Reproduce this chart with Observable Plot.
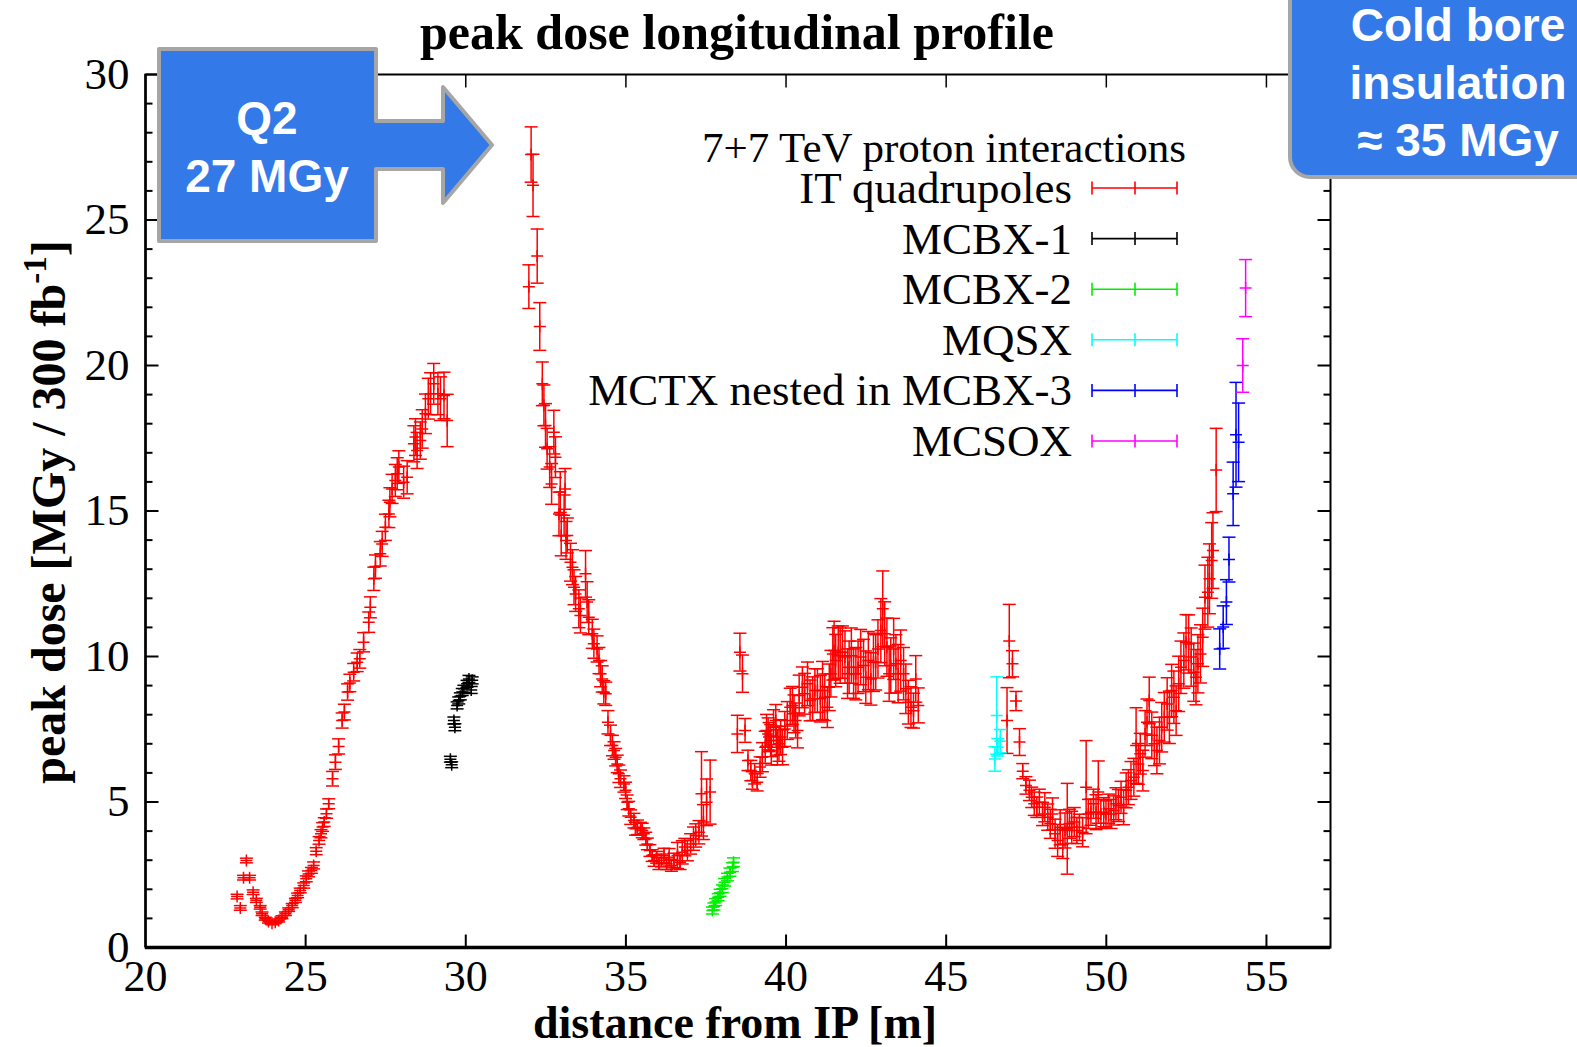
<!DOCTYPE html>
<html><head><meta charset="utf-8">
<script src="https://cdn.jsdelivr.net/npm/d3@7"></script>
<script src="https://cdn.jsdelivr.net/npm/@observablehq/plot@0.6"></script>
<style>
html,body{margin:0;padding:0;background:#fff;}
#wrap{position:relative;width:1577px;height:1047px;overflow:hidden;}
#wrap > svg{position:absolute;left:0;top:0;overflow:visible;}
</style></head><body><div id="wrap"></div>
<script>
// ---- data: [distance (m), peak dose (MGy/300 fb^-1), error] ----
const itQuad = [
[22.86,1.75,0.08],[22.96,1.36,0.08],[23.06,2.40,0.08],[23.15,2.99,0.08],[23.25,2.40,0.08],[23.36,1.90,0.08],[23.46,1.62,0.07],[23.58,1.38,0.06],[23.64,1.16,0.06],[23.74,0.99,0.05],[23.84,0.89,0.05],[23.95,0.83,0.05],[24.05,0.87,0.05],[24.16,0.93,0.05],[24.26,1.04,0.05],[24.37,1.16,0.06],[24.47,1.30,0.06],[24.58,1.44,0.07],[24.68,1.62,0.07],[24.75,1.79,0.08],[24.83,1.96,0.08],[24.94,2.13,0.09],[25.02,2.36,0.1],[25.09,2.53,0.1],[25.18,2.65,0.1],[25.25,2.82,0.12],[25.33,3.31,0.12],[25.42,3.68,0.13],[25.48,3.91,0.14],[25.53,4.14,0.15],[25.58,4.31,0.15],[25.65,4.60,0.16],[25.72,4.94,0.17],[25.84,5.80,0.25],[25.93,6.37,0.25],[26.03,6.91,0.26],[26.14,7.80,0.26],[26.21,8.09,0.27],[26.31,8.78,0.28],[26.38,9.09,0.3],[26.50,9.46,0.3],[26.61,9.80,0.32],[26.69,9.92,0.32],[26.81,10.49,0.33],
[26.97,11.18,0.35],[27.02,11.69,0.36],[27.13,12.67,0.4],[27.18,13.09,0.4],[27.33,13.53,0.42],[27.39,13.87,0.43],[27.49,14.44,0.45],[27.60,14.90,0.47],[27.63,15.30,0.5],[27.70,15.76,0.5],[27.80,16.05,0.55],[27.86,16.28,0.55],[27.91,16.51,0.56],[28.06,15.99,0.55],[28.17,16.16,0.57],[28.38,17.31,0.62],[28.43,17.54,0.63],[28.48,17.08,0.62],[28.58,17.42,0.64],[28.64,17.82,0.66],[28.74,18.34,0.68],[28.83,18.86,0.7],[28.90,19.03,0.72],[29.00,19.37,0.7],[29.13,19.03,0.72],[29.21,18.86,0.75],[29.32,18.97,0.8],[29.42,18.11,0.9],
[31.97,22.71,0.75],[32.04,27.25,0.95],[32.10,26.19,1.07],[32.23,23.76,0.93],[32.31,21.34,0.82],[32.39,19.37,0.75],[32.44,18.63,0.7],[32.49,17.94,0.75],[32.54,17.14,0.7],[32.62,16.51,0.7],[32.68,15.93,0.7],[32.75,17.71,0.75],[32.80,16.85,0.7],[32.91,14.90,0.75],[32.95,15.65,0.7],[32.98,14.16,0.7],[33.07,14.85,0.7],[33.10,15.76,0.7],[33.13,13.99,0.65],[33.17,14.16,0.6],[33.27,13.24,0.65],[33.33,13.07,0.6],[33.38,12.38,0.6],[33.43,12.15,0.6],[33.53,11.64,0.65],[33.58,11.41,0.6],[33.74,12.84,0.8],[33.79,11.87,0.7],[33.84,11.35,0.6],[33.95,10.78,0.5],[34.00,10.44,0.5],[34.10,10.26,0.45],[34.16,9.86,0.45],[34.21,9.41,0.45],[34.26,9.23,0.45],[34.31,8.77,0.4],[34.37,8.72,0.4],[34.44,7.74,0.4],[34.52,7.29,0.35],[34.58,6.94,0.35],[34.63,6.77,0.3],[34.68,6.54,0.3],[34.73,6.31,0.3],[34.78,5.97,0.3],[34.83,5.80,0.3],[34.94,5.62,0.28],[34.99,5.40,0.28],[35.04,4.99,0.25],[35.09,4.77,0.25],[35.15,4.48,0.25],[35.25,4.36,0.25],[35.30,4.08,0.22],[35.36,4.13,0.25],[35.46,4.08,0.22],[35.51,4.02,0.25],[35.56,3.91,0.2],[35.62,3.74,0.22],[35.67,3.56,0.2],[35.75,3.33,0.2],[35.82,3.16,0.2],[35.88,2.99,0.2],[35.96,3.10,0.2],[36.03,2.88,0.2],[36.11,2.99,0.22],[36.19,3.16,0.25],[36.27,2.88,0.2],[36.35,3.10,0.3],[36.42,2.82,0.2],[36.50,2.99,0.25],[36.61,3.16,0.45],[36.69,2.93,0.25],[36.76,3.27,0.4],[36.84,3.45,0.3],[36.92,3.33,0.35],[37.02,3.56,0.35],[37.11,3.74,0.4],[37.18,3.85,0.4],[37.28,3.96,0.4],[37.36,5.28,1.45],[37.42,4.31,0.6],[37.52,4.99,0.8],[37.63,5.34,1.1],
[38.48,7.34,0.64],[38.56,10.15,0.65],[38.64,9.41,0.64],[38.72,7.46,0.41],[38.81,6.43,0.35],[38.90,6.08,0.35],[38.95,5.74,0.3],[39.02,5.97,0.35],[39.10,5.68,0.3],[39.19,6.20,0.35],[39.26,6.54,0.5],[39.35,6.88,0.55],[39.39,7.46,0.55],[39.44,7.34,0.55],[39.47,7.23,0.5],[39.52,7.11,0.55],[39.54,6.77,0.5],[39.61,7.57,0.6],[39.68,7.80,0.55],[39.70,7.11,0.5],[39.73,6.88,0.6],[39.78,7.00,0.6],[39.83,7.23,0.6],[39.89,6.88,0.6],[39.96,7.51,0.6],[40.04,7.80,0.65],[40.13,8.26,0.65],[40.20,8.32,0.65],[40.25,8.03,0.65],[40.30,7.80,0.6],[40.36,7.46,0.6],[40.41,8.66,0.7],[40.51,8.94,0.7],[40.58,8.72,0.7],[40.67,9.06,0.75],[40.75,8.49,0.7],[40.83,8.55,0.75],[40.90,8.83,0.75],[40.98,8.83,0.75],[41.07,8.55,0.8],[41.14,8.83,1.0],[41.21,8.60,0.8],[41.29,8.26,0.7],[41.35,8.94,0.8],[41.40,9.41,0.8],[41.46,10.09,0.9],[41.50,10.21,1.0],[41.55,9.86,0.9],[41.63,10.15,0.9],[41.69,10.03,0.95],[41.76,10.15,0.9],[41.84,9.98,0.9],[41.92,9.41,0.85],[41.97,9.63,0.9],[42.04,10.03,0.95],[42.11,9.41,0.85],[42.18,9.41,0.9],[42.25,9.63,0.9],[42.33,9.98,0.95],[42.42,9.69,0.9],[42.49,9.29,0.9],[42.57,9.86,1.0],[42.65,9.23,0.9],[42.73,9.80,1.0],[42.80,9.80,0.95],[42.87,10.26,1.0],[42.96,10.89,1.1],[43.02,11.64,1.3],[43.08,10.78,1.1],[43.15,10.32,1.0],[43.22,9.41,0.95],[43.27,9.69,0.95],[43.36,10.26,1.05],[43.43,9.75,1.0],[43.50,9.41,1.0],[43.58,9.86,1.05],[43.67,9.41,0.9],[43.74,8.89,0.85],[43.82,8.43,0.75],[43.90,8.26,0.7],[43.98,8.14,0.6],[44.05,9.23,0.8],[44.13,8.32,0.6],
[46.90,7.80,1.13],[46.97,10.53,1.26],[47.07,9.75,0.45],[47.18,8.47,0.33],[47.29,7.06,0.46],[47.39,6.06,0.26],[47.49,5.57,0.3],[47.60,5.40,0.35],[47.67,5.16,0.35],[47.75,4.94,0.4],[47.83,4.82,0.35],[47.91,4.99,0.45],[48.01,4.59,0.4],[48.08,4.82,0.5],[48.17,4.48,0.45],[48.25,4.25,0.5],[48.32,4.59,0.55],[48.40,3.91,0.5],[48.48,3.68,0.55],[48.56,4.13,0.6],[48.64,3.56,0.5],[48.71,4.02,0.6],[48.78,4.08,1.56],[48.85,4.25,0.5],[48.92,4.13,0.55],[49.00,4.31,0.5],[49.08,4.02,0.45],[49.16,4.13,0.45],[49.26,3.96,0.5],[49.37,5.51,1.6],[49.44,4.59,0.5],[49.52,4.65,0.45],[49.60,4.94,0.5],[49.68,4.65,0.6],[49.75,5.34,1.07],[49.83,4.59,0.5],[49.92,4.65,0.5],[49.99,4.59,0.45],[50.07,4.77,0.5],[50.15,4.59,0.5],[50.23,4.71,0.5],[50.30,4.94,0.55],[50.38,4.88,0.55],[50.46,5.16,0.55],[50.54,4.82,0.6],[50.62,5.40,0.6],[50.69,5.51,0.6],[50.77,5.74,0.65],[50.86,5.85,0.65],[50.93,6.94,1.3],[51.00,6.31,0.7],[51.06,6.66,0.7],[51.14,6.08,0.7],[51.21,7.34,0.8],[51.27,7.74,0.8],[51.34,8.49,0.8],[51.42,7.29,0.8],[51.50,7.00,0.75],[51.58,6.77,0.8],[51.66,7.11,0.8],[51.73,7.57,0.85],[51.81,7.91,0.85],[51.90,8.37,0.9],[51.97,7.91,0.9],[52.04,8.83,0.9],[52.11,8.60,0.9],[52.18,8.14,0.85],[52.26,9.06,0.95],[52.33,9.63,0.9],[52.42,9.86,0.95],[52.49,10.49,0.95],[52.57,10.43,1.0],[52.65,9.98,1.0],[52.73,9.46,1.0],[52.80,9.29,0.95],[52.86,9.75,1.0],[52.94,10.09,1.0],[53.01,10.66,1.0],[53.08,12.04,1.1],[53.17,12.21,1.2],[53.22,12.67,1.2],[53.29,13.30,1.3],[53.33,13.64,1.3],[53.43,16.41,1.43]
];
const mcbx1 = [[29.52,6.47,0.1],[29.56,6.28,0.1],[29.63,7.80,0.12],[29.66,7.57,0.12],[29.73,8.32,0.12],[29.78,8.49,0.12],[29.83,8.63,0.12],[29.89,8.78,0.12],[29.94,8.89,0.12],[30.04,9.06,0.12],[30.10,9.23,0.12],[30.17,8.85,0.12],[30.20,9.18,0.12]];
const mcbx2 = [[37.70,1.27,0.12],[37.75,1.41,0.12],[37.80,1.56,0.12],[37.88,1.73,0.12],[37.94,1.88,0.12],[38.01,2.02,0.13],[38.08,2.24,0.13],[38.17,2.42,0.13],[38.25,2.59,0.14],[38.33,2.76,0.15],[38.36,2.93,0.15]];
const mqsx = [[46.52,6.48,0.42],[46.58,7.97,1.33],[46.61,6.88,0.3],[46.69,7.09,0.4]];
const mctx = [[53.54,10.26,0.69],[53.65,11.01,0.73],[53.75,11.87,0.77],[53.83,13.33,0.77],[53.96,15.59,1.09],[54.05,17.62,1.8],[54.13,17.36,1.35]];
const mcsox = [[54.26,20.0,0.92],[54.35,22.66,0.98]];

const seriesNames = ["IT quadrupoles","MCBX-1","MCBX-2","MQSX","MCTX nested in MCBX-3","MCSOX"];
const seriesColors = ["#ff0000","#000000","#00ee00","#00ffff","#0000ff","#ff00ff"];
const seriesData = [itQuad, mcbx1, mcbx2, mqsx, mctx, mcsox];
const legendTitle = "7+7 TeV proton interactions";
const xTickValues = [20,25,30,35,40,45,50,55];
const yTickValues = [0,5,10,15,20,25,30];
const yMinorValues = d3.range(0,31,1);

// ---- layout ----
const W = 1577, H = 1047, mL = 145, mR = 247, mT = 74, mB = 100;
const serif = "'Liberation Serif','Times New Roman',serif";
const sans = "'Liberation Sans',Arial,sans-serif";

const plusSym = {draw(c){c.moveTo(-6,0);c.lineTo(6,0);c.moveTo(0,-6);c.lineTo(0,6);}};
const capSym = {draw(c){c.moveTo(-6.5,0);c.lineTo(6.5,0);}};
const tUpL = {draw(c){c.moveTo(0,0);c.lineTo(0,-13);}};
const tDnL = {draw(c){c.moveTo(0,0);c.lineTo(0,13);}};
const tRtL = {draw(c){c.moveTo(0,0);c.lineTo(13,0);}};
const tLfL = {draw(c){c.moveTo(0,0);c.lineTo(-13,0);}};
const tRtS = {draw(c){c.moveTo(0,0);c.lineTo(7,0);}};
const tLfS = {draw(c){c.moveTo(0,0);c.lineTo(-7,0);}};

const seriesMarks = [];
seriesData.forEach((data, i) => {
  const col = seriesColors[i];
  const common = {x: d => d[0], stroke: col, strokeWidth: 1.5, fill: "none"};
  seriesMarks.push(
    Plot.ruleX(data, {x: d => d[0], y1: d => d[1] - d[2], y2: d => d[1] + d[2], stroke: col, strokeWidth: 1.5}),
    Plot.dot(data, {...common, y: d => d[1] - d[2], symbol: capSym}),
    Plot.dot(data, {...common, y: d => d[1] + d[2], symbol: capSym}),
    Plot.dot(data, {...common, y: d => d[1], symbol: plusSym})
  );
});

const minorOnly = yMinorValues.filter(v => v % 5 !== 0);
const chart = Plot.plot({
  width: W, height: H,
  marginLeft: mL, marginRight: mR, marginTop: mT, marginBottom: mB,
  style: {fontFamily: serif, color: "black", background: "white"},
  x: {domain: [20, 57]},
  y: {domain: [0, 30]},
  marks: [
    ...seriesMarks,
    Plot.dot(xTickValues.slice(1), {x: d => d, frameAnchor: "bottom", symbol: tUpL, stroke: "black", strokeWidth: 2}),
    Plot.dot(xTickValues.slice(1), {x: d => d, frameAnchor: "top", symbol: tDnL, stroke: "black", strokeWidth: 1.5}),
    Plot.dot(yTickValues, {y: d => d, frameAnchor: "left", symbol: tRtL, stroke: "black", strokeWidth: 2}),
    Plot.dot(minorOnly, {y: d => d, frameAnchor: "left", symbol: tRtS, stroke: "black", strokeWidth: 2}),
    Plot.dot(yTickValues, {y: d => d, frameAnchor: "right", symbol: tLfL, stroke: "black", strokeWidth: 2}),
    Plot.dot(minorOnly, {y: d => d, frameAnchor: "right", symbol: tLfS, stroke: "black", strokeWidth: 2}),
    Plot.frame({stroke: "black", strokeWidth: 2}),
    Plot.ruleY([0], {stroke: "black", strokeWidth: 3.5}),
    Plot.ruleX([20], {stroke: "black", strokeWidth: 2.5}),
    Plot.axisX({ticks: xTickValues, tickSize: 0, tickPadding: 12, fontSize: 44, fontFamily: serif, label: null}),
    Plot.axisY({ticks: yTickValues, tickSize: 0, tickPadding: 16, fontSize: 45, fontFamily: serif, label: null})
  ]
});
document.getElementById("wrap").appendChild(chart);

// ---- overlays ----
const svg = d3.select(chart);
// title
svg.append("text").attr("x", 737).attr("y", 49).attr("text-anchor", "middle")
  .attr("font-family", serif).attr("font-weight", "bold").attr("font-size", 50).attr("fill", "black")
  .text("peak dose longitudinal profile");
// x label
svg.append("text").attr("x", 735).attr("y", 1038).attr("text-anchor", "middle")
  .attr("font-family", serif).attr("font-weight", "bold").attr("font-size", 46).attr("fill", "black")
  .text("distance from IP [m]");
// y label
const yl = svg.append("text").attr("transform", "translate(65,512) rotate(-90)").attr("text-anchor", "middle")
  .attr("font-family", serif).attr("font-weight", "bold").attr("font-size", 48).attr("fill", "black");
yl.append("tspan").text("peak dose [MGy / 300 fb");
yl.append("tspan").attr("dy", -19).attr("font-size", 33).text("-1");
yl.append("tspan").attr("dy", 19).text("]");

// legend
const lg = svg.append("g");
lg.append("text").attr("x", 944).attr("y", 162).attr("text-anchor", "middle")
  .attr("font-family", serif).attr("font-size", 43).attr("fill", "black").text(legendTitle);
seriesNames.forEach((name, i) => {
  const cy = 188 + i * 50.6;
  lg.append("text").attr("x", 1072).attr("y", cy + 15).attr("text-anchor", "end")
    .attr("font-family", serif).attr("font-size", 45).attr("fill", "black").text(name);
  const g = lg.append("g").attr("stroke", seriesColors[i]).attr("stroke-width", 1.6);
  g.append("line").attr("x1", 1092).attr("x2", 1177).attr("y1", cy).attr("y2", cy);
  [1092, 1135, 1177].forEach(x => g.append("line").attr("x1", x).attr("x2", x).attr("y1", cy - 6.5).attr("y2", cy + 6.5));
});

// Q2 annotation arrow
const blue = "#3479e8", grey = "#a6a6a6";
svg.append("path")
  .attr("d", "M159,49 L376,49 L376,121 L443,121 L443,87 L492,145 L443,203 L443,169 L376,169 L376,241 L159,241 Z")
  .attr("fill", blue).attr("stroke", grey).attr("stroke-width", 4).attr("stroke-linejoin", "round");
[["Q2", 134], ["27 MGy", 192]].forEach(([t, y]) =>
  svg.append("text").attr("x", 267).attr("y", y).attr("text-anchor", "middle")
    .attr("font-family", sans).attr("font-weight", "bold").attr("font-size", 46).attr("fill", "white").text(t));

// Cold bore annotation box
svg.append("rect").attr("x", 1290).attr("y", -40).attr("width", 340).attr("height", 217).attr("rx", 20)
  .attr("fill", blue).attr("stroke", grey).attr("stroke-width", 4);
[["Cold bore", 41], ["insulation", 99], ["≈ 35 MGy", 156]].forEach(([t, y]) =>
  svg.append("text").attr("x", 1458).attr("y", y).attr("text-anchor", "middle")
    .attr("font-family", sans).attr("font-weight", "bold").attr("font-size", 46).attr("fill", "white").text(t));
</script></body></html>
